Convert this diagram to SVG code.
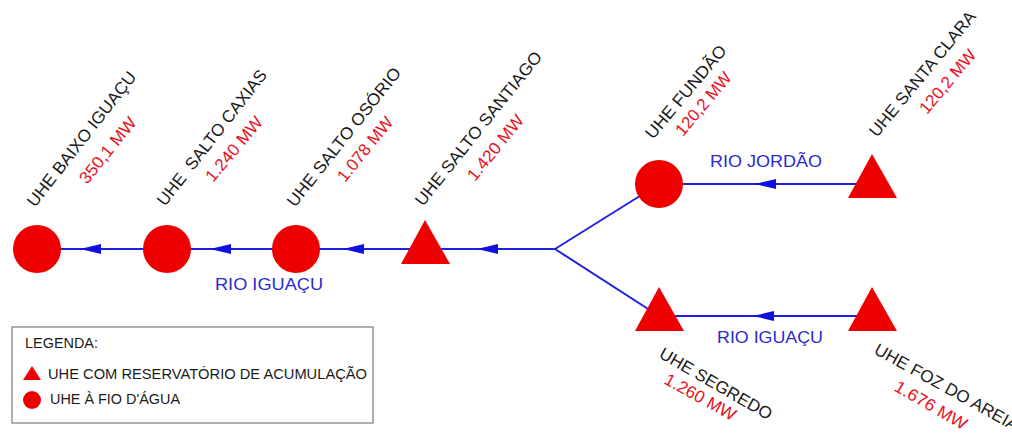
<svg xmlns="http://www.w3.org/2000/svg" width="1012" height="439" viewBox="0 0 1012 439">
<style>
.bg{fill:#ffffff}
.ror{fill:#ee0000}
.res{fill:#ee0000}
.river{stroke:#2020e0;stroke-width:2;fill:none}
.arr{fill:#1010e0}
.name{font-family:"Liberation Sans",Arial,sans-serif;font-size:17px;fill:#1a1a1a}
.mw{font-family:"Liberation Sans",Arial,sans-serif;font-size:17px;fill:#e8101a}
.rio{font-family:"Liberation Sans",Arial,sans-serif;font-size:17px;fill:#2a2ad0}
.leg{font-family:"Liberation Sans",Arial,sans-serif;font-size:14px;fill:#1a1a1a}
.legbox{fill:#ffffff;stroke:#7a7a7a;stroke-width:1.2}
</style>
<defs>
<path id="arrow" d="M0,0 L21,-5 L21,5 Z"/>
</defs>
<rect class="bg" x="0" y="0" width="1012" height="439"/>

<g id="connectors">
<line class="river" x1="37" y1="249" x2="555" y2="249"/>
<line class="river" x1="555" y1="249" x2="659" y2="184"/>
<line class="river" x1="555" y1="249" x2="659" y2="316"/>
<line class="river" x1="659" y1="184" x2="872" y2="184"/>
<line class="river" x1="659" y1="316" x2="872" y2="316"/>
<use href="#arrow" class="arr" x="80" y="249"/>
<use href="#arrow" class="arr" x="210" y="249"/>
<use href="#arrow" class="arr" x="343" y="249"/>
<use href="#arrow" class="arr" x="477" y="249"/>
<use href="#arrow" class="arr" x="755" y="184"/>
<use href="#arrow" class="arr" x="753" y="316"/>
<text class="rio" x="215" y="290" textLength="108" lengthAdjust="spacingAndGlyphs">RIO IGUAÇU</text>
<text class="rio" x="710" y="167" textLength="112" lengthAdjust="spacingAndGlyphs">RIO JORDÃO</text>
<text class="rio" x="717" y="343" textLength="106" lengthAdjust="spacingAndGlyphs">RIO IGUAÇU</text>
</g>

<g id="baixo-iguacu">
<circle class="ror" cx="37" cy="249" r="24"/>
<text class="name" transform="translate(35,208) rotate(-52)" textLength="166" lengthAdjust="spacingAndGlyphs">UHE BAIXO IGUAÇU</text>
<text class="mw" transform="translate(87,185) rotate(-51)" textLength="80" lengthAdjust="spacingAndGlyphs">350,1 MW</text>
</g>

<g id="salto-caxias">
<circle class="ror" cx="167" cy="249" r="24"/>
<text class="name" transform="translate(165,207) rotate(-52)" textLength="167" lengthAdjust="spacingAndGlyphs" xml:space="preserve">UHE  SALTO CAXIAS</text>
<text class="mw" transform="translate(213,183) rotate(-50)" textLength="79" lengthAdjust="spacingAndGlyphs">1.240 MW</text>
</g>

<g id="salto-osorio">
<circle class="ror" cx="296" cy="249" r="24"/>
<text class="name" transform="translate(295,208) rotate(-51.6)" textLength="172" lengthAdjust="spacingAndGlyphs">UHE SALTO OSÓRIO</text>
<text class="mw" transform="translate(345,183) rotate(-51)" textLength="78" lengthAdjust="spacingAndGlyphs">1.078 MW</text>
</g>

<g id="salto-santiago">
<polygon class="res" points="425,220 450,264 401,264"/>
<text class="name" transform="translate(423,207) rotate(-51.3)" textLength="192" lengthAdjust="spacingAndGlyphs">UHE SALTO SANTIAGO</text>
<text class="mw" transform="translate(475,182) rotate(-51)" textLength="79" lengthAdjust="spacingAndGlyphs">1.420 MW</text>
</g>

<g id="fundao">
<circle class="ror" cx="659" cy="184" r="24"/>
<text class="name" transform="translate(653,140) rotate(-50)" textLength="116" lengthAdjust="spacingAndGlyphs">UHE FUNDÃO</text>
<text class="mw" transform="translate(683,137) rotate(-50)" textLength="77" lengthAdjust="spacingAndGlyphs">120,2 MW</text>
</g>

<g id="santa-clara">
<polygon class="res" points="872,154 897,198 848,198"/>
<text class="name" transform="translate(877,138) rotate(-50.5)" textLength="157" lengthAdjust="spacingAndGlyphs">UHE SANTA CLARA</text>
<text class="mw" transform="translate(927,115) rotate(-50)" textLength="78" lengthAdjust="spacingAndGlyphs">120,2 MW</text>
</g>

<g id="segredo">
<polygon class="res" points="659,287 684,331 635,331"/>
<text class="name" transform="translate(658,357) rotate(30)" textLength="127" lengthAdjust="spacingAndGlyphs">UHE SEGREDO</text>
<text class="mw" transform="translate(663,383) rotate(29)" textLength="79" lengthAdjust="spacingAndGlyphs">1.260 MW</text>
</g>

<g id="foz-do-areia">
<polygon class="res" points="872,287 897,331 848,331"/>
<text class="name" transform="translate(873,353) rotate(29)" textLength="162" lengthAdjust="spacingAndGlyphs">UHE FOZ DO AREIA</text>
<text class="mw" transform="translate(893,390) rotate(30)" textLength="81" lengthAdjust="spacingAndGlyphs">1.676 MW</text>
</g>

<g id="legend">
<rect class="legbox" x="12" y="327" width="361" height="96"/>
<text class="leg" x="25" y="348" textLength="73" lengthAdjust="spacingAndGlyphs">LEGENDA:</text>
<polygon class="res" points="32,366 41,380 23,380"/>
<text class="leg" x="48" y="379" textLength="319" lengthAdjust="spacingAndGlyphs">UHE COM RESERVATÓRIO DE ACUMULAÇÃO</text>
<circle class="ror" cx="32" cy="400" r="9"/>
<text class="leg" x="50" y="404" textLength="130" lengthAdjust="spacingAndGlyphs">UHE À FIO D'ÁGUA</text>
</g>
</svg>
